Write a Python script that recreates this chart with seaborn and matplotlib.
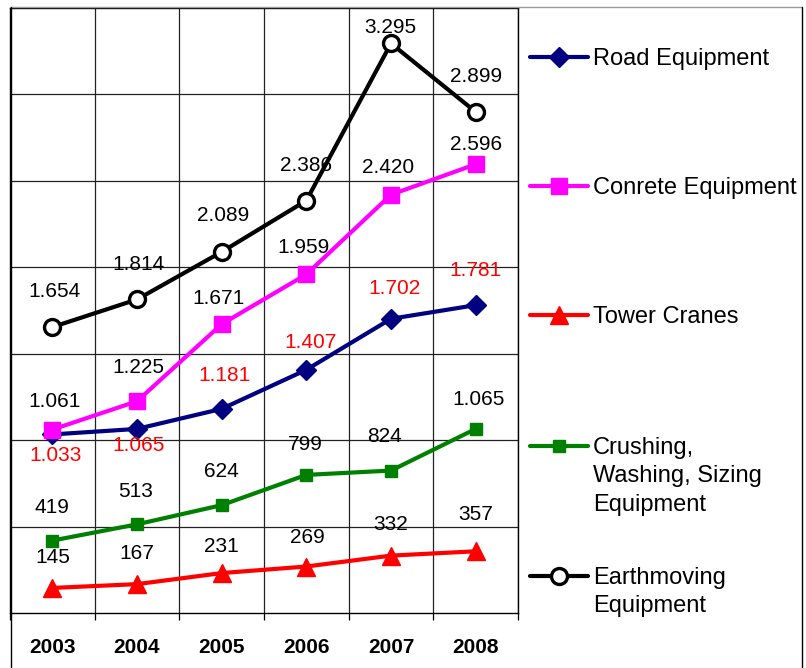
import matplotlib
matplotlib.use("Agg")
import matplotlib.pyplot as plt
from matplotlib.lines import Line2D
import seaborn as sns

# data (values in units, shown with "." as thousands separator)
years = [2003, 2004, 2005, 2006, 2007, 2008]
road = [1033, 1065, 1181, 1407, 1702, 1781]
concrete = [1061, 1225, 1671, 1959, 2420, 2596]
tower = [145, 167, 231, 269, 332, 357]
crushing = [419, 513, 624, 799, 824, 1065]
earthmoving = [1654, 1814, 2089, 2386, 3295, 2899]

names = ["Road Equipment", "Conrete Equipment", "Tower Cranes",
         "Crushing,\nWashing, Sizing\nEquipment", "Earthmoving\nEquipment"]

sns.set_theme(style="white")
plt.rcParams["font.family"] = ["Liberation Sans", "DejaVu Sans"]
plt.rcParams["text.color"] = "black"
plt.rcParams["xtick.color"] = "black"
plt.rcParams["xtick.labelcolor"] = "black"

W, H = 806, 668
fig = plt.figure(figsize=(W / 100, H / 100), dpi=100)
ax = fig.add_axes([10 / W, 55 / H, 508 / W, 605 / H])

# per-series style: colour, marker, size, face, edge width, label colour
styles = [
    dict(color="#000080", marker="D", ms=10.5, mfc="#000080", mew=1, lab="red"),
    dict(color="#ff00ff", marker="s", ms=11, mfc="#ff00ff", mew=1, lab="black"),
    dict(color="#ff0000", marker="^", ms=13, mfc="#ff0000", mew=1, lab="black"),
    dict(color="#008000", marker="s", ms=8, mfc="#008000", mew=1, lab="black"),
    dict(color="black", marker="o", ms=11.5, mfc="white", mew=2.4, lab="black"),
]
# label offsets in pixels (dx, dy)
offsets = [
    [(3, -21), (2, -17), (3, 33), (4, 27), (4, 30), (0, 35)],
    [(2, 28), (1, 34), (-3, 26), (-3, 27), (-3, 27), (0, 20)],
    [(0, 30), (0, 31), (0, 27), (1, 29), (0, 31), (0, 37)],
    [(0, 33), (-1, 33), (0, 34), (-1, 30), (-6, 34), (3, 29)],
    [(2, 36), (2, 35), (1, 36), (0, 35), (-1, 16), (0, 35)],
]
series = [road, concrete, tower, crushing, earthmoving]

for vals, st in zip(series, styles):
    sns.lineplot(x=years, y=vals, ax=ax, color=st["color"], linewidth=3,
                 marker=st["marker"], markersize=st["ms"],
                 markerfacecolor=st["mfc"], markeredgecolor=st["color"],
                 markeredgewidth=st["mew"], legend=False, clip_on=False)

for vals, st, offs in zip(series, styles, offsets):
    for x, v, (dx, dy) in zip(years, vals, offs):
        ax.annotate(f"{v:,}".replace(",", "."), (x, v), xytext=(dx, dy),
                    textcoords="offset pixels", ha="center", va="center",
                    fontsize=15, color=st["lab"], zorder=10)

ax.set_xlim(2002.5, 2008.5)
ax.set_ylim(0, 3500)
ax.set_xticks(years)
ax.set_xticklabels([str(y) for y in years], fontweight="bold", fontsize=15,
                   color="black")
ax.set_xticks([y + 0.5 for y in [2002] + years], minor=True)
ax.set_yticks(range(500, 3500, 500))
ax.set_yticklabels([])
ax.tick_params(axis="x", which="major", length=0, pad=18)
ax.tick_params(axis="x", which="minor", length=5, width=0.9, color="black",
               direction="out", bottom=True)
ax.tick_params(axis="y", length=0)
ax.grid(False)
ax.grid(True, which="minor", axis="x", color="#222222", linewidth=0.9)
ax.grid(True, which="major", axis="y", color="#222222", linewidth=0.9)
ax.set_axisbelow(True)
ax.set_xlabel("")
ax.set_ylabel("")
for sp in ax.spines.values():
    sp.set_color("black")
    sp.set_linewidth(1)


def fx(px):
    return px / W


def fy(py):
    return 1 - py / H


# legend on the right, handle on the first text line
legend_y = [57, 186, 315, 446, 576]
for name, st, yy in zip(names, styles, legend_y):
    fig.add_artist(Line2D([fx(530), fx(588)], [fy(yy), fy(yy)],
                          color=st["color"], linewidth=3,
                          transform=fig.transFigure))
    fig.add_artist(Line2D([fx(559)], [fy(yy)], marker=st["marker"],
                          markersize=st["ms"], markerfacecolor=st["mfc"],
                          markeredgecolor=st["color"],
                          markeredgewidth=st["mew"], linestyle="none",
                          transform=fig.transFigure))
    fig.text(fx(593), fy(yy - 9), name, fontsize=17, ha="left",
             va="top", linespacing=1.38, color="black")

# outer frame
fig.add_artist(Line2D([fx(10), fx(802)], [fy(7), fy(7)], color="#999999",
                      linewidth=1, transform=fig.transFigure))
fig.add_artist(Line2D([fx(10.5), fx(10.5)], [fy(7), 0], color="black",
                      linewidth=1, transform=fig.transFigure))
fig.add_artist(Line2D([fx(802), fx(802)], [fy(7), 0], color="black",
                      linewidth=1, transform=fig.transFigure))

fig.savefig("out.png", dpi=100)
